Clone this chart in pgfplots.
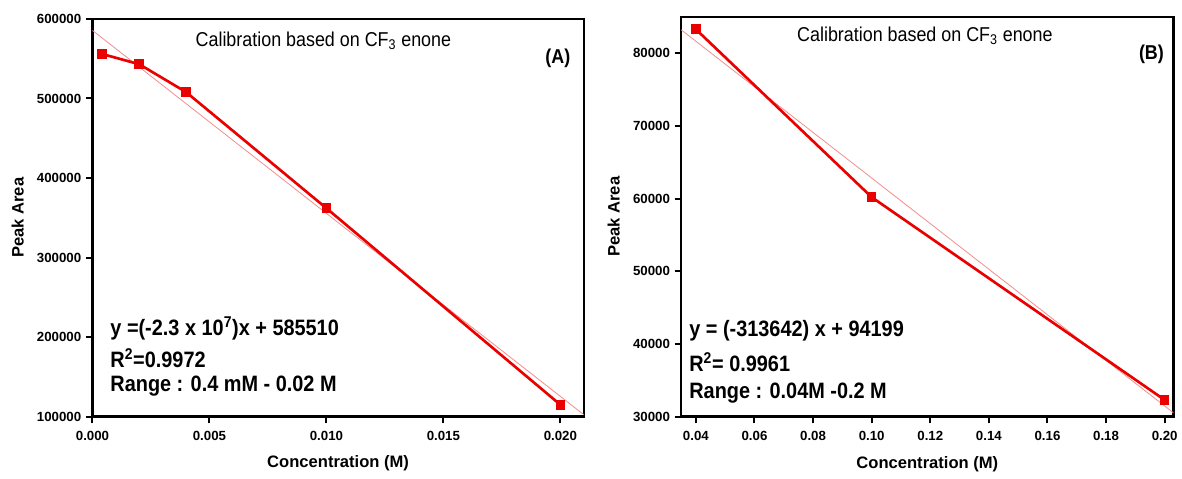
\documentclass[border=0pt]{standalone}
\usepackage{pgfplots}
\pgfplotsset{compat=1.18}
\usepackage{fontspec}
\setmainfont{Liberation Sans}

\definecolor{datared}{RGB}{235,0,0}
\definecolor{fitred}{RGB}{245,140,140}

\pgfplotsset{
  calib/.style={
    scale only axis,
    axis line style={line width=1.8pt},
    tick style={line width=1.5pt, black},
    major tick length=5pt,
    tick align=outside,
    xtick pos=bottom, ytick pos=left,
    minor tick num=0,
    scaled ticks=false,
    tick label style={font=\bfseries\fontsize{10}{12}\selectfont},
    xticklabel style={yshift=-2.5pt},
    /pgf/number format/assume math mode=true,
    label style={font=\bfseries\fontsize{12.5}{15}\selectfont},
    xlabel style={at={(axis description cs:0.5,-0.118)}, anchor=center},
    clip=true,
  },
}
\tikzset{eqtext/.style={font=\bfseries\fontsize{15}{18}\selectfont, anchor=west, inner sep=0pt}}
\newcommand{\tall}[1]{\scalebox{1}[1.12]{#1}}

\begin{document}
\begin{tikzpicture}
\path (0,0) rectangle (886.5pt,-360.75pt);

% ---- (A) ----
\begin{axis}[calib,
  at={(69.75pt,-314.25pt)}, anchor=south west,
  width=370.5pt, height=300pt,
  xmin=0, xmax=0.021, ymin=100000, ymax=600000,
  xtick={0,0.005,0.010,0.015,0.020},
  ytick={100000,200000,300000,400000,500000,600000},
  xticklabel style={/pgf/number format/.cd, fixed, fixed zerofill, precision=3},
  yticklabel style={/pgf/number format/.cd, fixed, 1000 sep={}},
  xlabel={Concentration (M)}, ylabel={Peak Area},
  ylabel style={at={(axis description cs:-0.152,0.5)}, anchor=center},
]
\addplot[fitred, line width=0.6pt] coordinates {(0,585510) (0.021,102510)};
\addplot[datared, line width=2pt, mark=square*, mark size=2.6pt] coordinates {
  (0.0004,556000) (0.002,543000) (0.004,508000) (0.010,362000) (0.020,115000)
};
\node[font=\fontsize{13.5}{15}\selectfont] at (rel axis cs:0.47,0.945) {\tall{Calibration based on CF\textsubscript{3} enone}};
\node[font=\bfseries\fontsize{13.5}{16}\selectfont, anchor=east] at (rel axis cs:0.982,0.9) {\tall{(A)}};
\node[eqtext] at (rel axis cs:0.036,0.2225) {\tall{y =(-2.3 x 10\textsuperscript{7})x + 585510}};
\node[eqtext] at (rel axis cs:0.036,0.1475) {\tall{R\textsuperscript{2}=0.9972}};
\node[eqtext] at (rel axis cs:0.036,0.0775) {\tall{Range : 0.4 mM - 0.02 M}};
\end{axis}

% ---- (B) ----
\begin{axis}[calib,
  at={(513.75pt,-314.25pt)}, anchor=south west,
  width=371.25pt, height=301.5pt,
  xmin=0.035, xmax=0.203, ymin=30000, ymax=85000,
  xtick={0.04,0.06,...,0.20},
  ytick={30000,40000,50000,60000,70000,80000},
  xticklabel style={/pgf/number format/.cd, fixed, fixed zerofill, precision=2},
  yticklabel style={/pgf/number format/.cd, fixed, 1000 sep={}},
  xlabel={Concentration (M)}, ylabel={Peak Area},
  ylabel style={at={(axis description cs:-0.137,0.5)}, anchor=center},
]
\addplot[fitred, line width=0.6pt] coordinates {(0.035,83222) (0.203,30529)};
\addplot[datared, line width=2pt, mark=square*, mark size=2.6pt] coordinates {
  (0.04,83300) (0.10,60200) (0.20,32300)
};
\node[font=\fontsize{13.5}{15}\selectfont] at (rel axis cs:0.495,0.952) {\tall{Calibration based on CF\textsubscript{3} enone}};
\node[font=\bfseries\fontsize{13.5}{16}\selectfont, anchor=east] at (rel axis cs:0.99,0.906) {\tall{(B)}};
\node[eqtext] at (rel axis cs:0.016,0.214) {\tall{y = (-313642) x + 94199}};
\node[eqtext] at (rel axis cs:0.016,0.137) {\tall{R\textsuperscript{2}= 0.9961}};
\node[eqtext] at (rel axis cs:0.016,0.06) {\tall{Range : 0.04M -0.2 M}};
\end{axis}
\end{tikzpicture}
\end{document}
